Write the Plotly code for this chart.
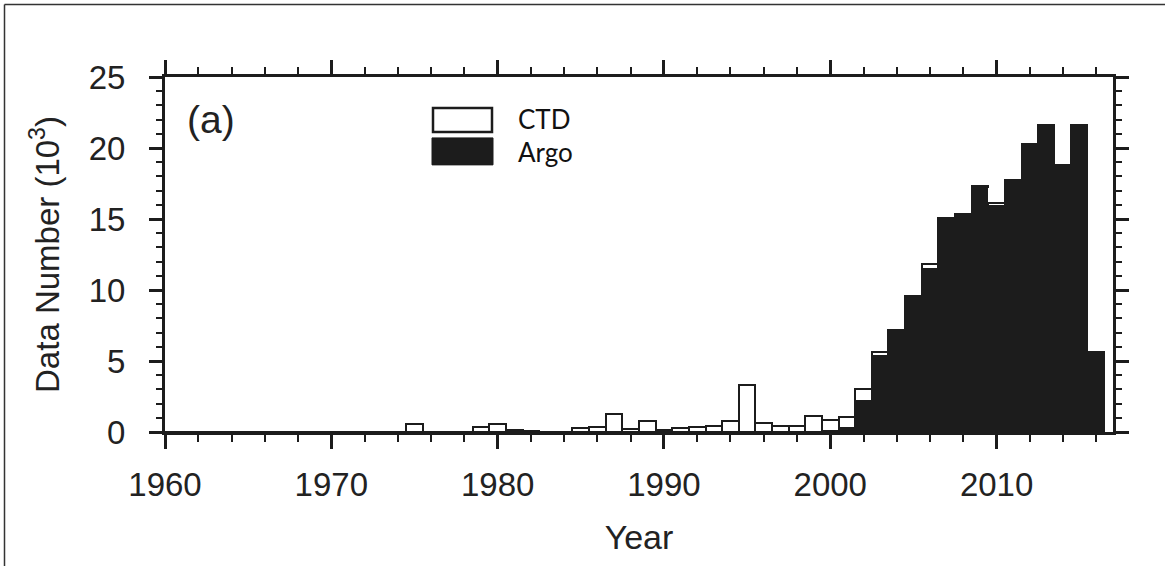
import plotly.graph_objects as go

years = list(range(1960, 2017))
ctd = [0]*15 + [
    0.55, 0, 0, 0, 0.35, 0.58, 0.15, 0.1, 0.02, 0.02,   # 1975-1984
    0.25, 0.37, 1.3, 0.2, 0.75, 0.15, 0.28, 0.32, 0.42, 0.8,  # 1985-1994
    3.3, 0.6, 0.4, 0.4, 1.1, 0.75, 0.75, 0.85, 0.25, 0.05,   # 1995-2004
    0.05, 0.3, 0.15, 0.05, 0.05, 0.2, 0.05, 0.05, 0.05, 0.05,  # 2005-2014
    0.05, 0.05]  # 2015-2016
argo = [0]*40 + [
    0.1, 0.3, 2.2, 5.35, 7.1,        # 2000-2004
    9.5, 11.5, 14.9, 15.3, 17.25,    # 2005-2009
    15.9, 17.7, 20.25, 21.6, 18.75,  # 2010-2014
    21.6, 5.6]                       # 2015-2016

x_ticks = [1960, 1970, 1980, 1990, 2000, 2010]
y_ticks = [0, 5, 10, 15, 20, 25]
legend_labels = ["CTD", "Argo"]

W, H = 1165, 566
L, R, T, B = 165, 1113, 77, 432.5

def px(xp):
    return (xp - L) / (R - L)

def py(yp):
    return (B - yp) / (B - T)

fig = go.Figure()
fig.add_trace(go.Bar(x=years, y=argo, name="Argo", width=1,
                     marker=dict(color="#1c1c1c", line=dict(color="#1c1c1c", width=1.5))))
fig.add_trace(go.Bar(x=years, y=ctd, name="CTD", width=1,
                     marker=dict(color="white", line=dict(color="#1c1c1c", width=2.2))))

font_main = "Liberation Sans, Arial, sans-serif"

fig.update_layout(
    width=W, height=H, autosize=False,
    margin=dict(l=L, r=W - R, t=T, b=H - B),
    paper_bgcolor="white", plot_bgcolor="white",
    barmode="stack", bargap=0, showlegend=False,
    font=dict(family=font_main, color="#222", size=33),
)
fig.update_xaxes(
    range=[1960, 2017], tickvals=x_ticks, ticktext=[str(v) for v in x_ticks],
    showgrid=False, zeroline=False,
    showline=True, linewidth=3, linecolor="#1c1c1c", mirror="ticks",
    ticks="outside", ticklen=14, tickwidth=3, tickcolor="#1c1c1c",
    ticklabelstandoff=7,
    tickfont=dict(size=33, family=font_main, color="#222"),
    minor=dict(dtick=2, tick0=1960, ticks="outside", ticklen=7, tickwidth=2, tickcolor="#1c1c1c", showgrid=False),
    title=dict(text="Year", font=dict(size=34, family=font_main, color="#222"), standoff=24),
)
fig.update_yaxes(
    range=[0, 25], tickvals=y_ticks, ticktext=[str(v) for v in y_ticks],
    showgrid=False, zeroline=False,
    showline=True, linewidth=3, linecolor="#1c1c1c", mirror="ticks",
    ticks="outside", ticklen=13, tickwidth=3, tickcolor="#1c1c1c",
    ticklabelstandoff=17,
    tickfont=dict(size=33, family=font_main, color="#222"),
    minor=dict(dtick=1, tick0=0, ticks="outside", ticklen=6, tickwidth=2, tickcolor="#1c1c1c", showgrid=False),
    title=dict(text="Data Number (10<sup>3</sup>)", font=dict(size=33, family=font_main, color="#222"), standoff=20),
)

# panel label
fig.add_annotation(text="(a)", xref="paper", yref="paper", x=px(185), y=py(120),
                   xanchor="left", yanchor="middle", showarrow=False,
                   font=dict(size=39, family=font_main, color="#222"))

# legend drawn manually
leg_font = "Lato, Open Sans, sans-serif"
fig.add_shape(type="rect", xref="paper", yref="paper",
              x0=px(433), x1=px(492), y0=py(132), y1=py(108),
              line=dict(color="#1c1c1c", width=2.5), fillcolor="white")
fig.add_shape(type="rect", xref="paper", yref="paper",
              x0=px(432), x1=px(493), y0=py(165), y1=py(138),
              line=dict(color="#1c1c1c", width=1), fillcolor="#1c1c1c")
fig.add_annotation(text=legend_labels[0], xref="paper", yref="paper", x=px(516), y=py(119),
                   xanchor="left", yanchor="middle", showarrow=False,
                   font=dict(size=26, family=leg_font, color="#111"))
fig.add_annotation(text=legend_labels[1], xref="paper", yref="paper", x=px(516), y=py(152),
                   xanchor="left", yanchor="middle", showarrow=False,
                   font=dict(size=26, family=leg_font, color="#111"))

# outer frame (left and top edges visible)
fig.add_shape(type="line", xref="paper", yref="paper", x0=px(4.5), x1=px(4.5), y0=py(600), y1=py(4.5),
              line=dict(color="#333", width=1.5))
fig.add_shape(type="line", xref="paper", yref="paper", x0=px(4.5), x1=px(1200), y0=py(4.5), y1=py(4.5),
              line=dict(color="#333", width=1.5))

fig.write_html("out.html")
